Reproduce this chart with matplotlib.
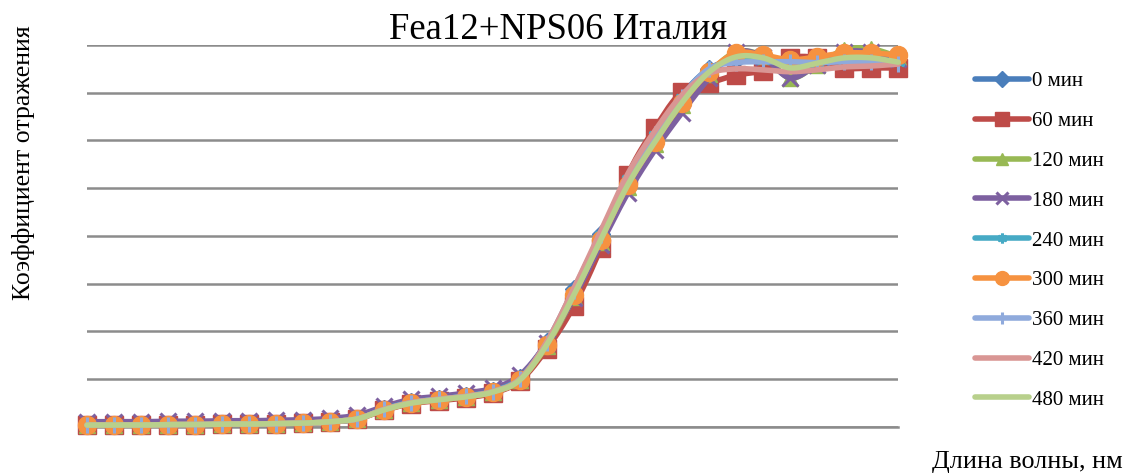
import numpy as np
import matplotlib
matplotlib.use("Agg")
import matplotlib.pyplot as plt
from matplotlib.lines import Line2D

plt.rcParams['font.family'] = ['Liberation Serif', 'DejaVu Serif']

# wavelength points (index only, axis has no labels)
points = np.arange(31)

series_names = ['0 мин', '60 мин', '120 мин', '180 мин', '240 мин',
                '300 мин', '360 мин', '420 мин', '480 мин']

low = [0.4, 0.4, 0.4, 0.5, 0.5, 0.6, 0.6, 0.7, 0.8, 1.1, 1.7]

r_0 = low + [3.8, 5.2, 5.8, 6.5, 7.6, 10.3, 17.8, 28.8, 40.5, 52.5, 61.5, 69.5,
             75.0, 76.8, 76.5, 75.8, 76.0, 76.5, 76.5, 76.2]
r_60 = low + [3.5, 4.9, 5.5, 6.1, 7.1, 9.6, 16.3, 25.3, 37.5, 52.8, 62.6, 70.2,
              72.0, 73.7, 74.6, 77.3, 77.3, 75.2, 75.2, 75.2]
r_120 = low + [3.6, 5.0, 5.7, 6.3, 7.3, 9.8, 17.0, 27.2, 38.8, 50.2, 59.2, 67.4,
               74.0, 78.5, 77.7, 73.1, 75.8, 79.0, 79.2, 77.5]
r_180 = [1.1, 1.1, 1.1, 1.2, 1.2, 1.3, 1.3, 1.4, 1.5, 1.8, 2.5,
         4.3, 5.8, 6.4, 7.1, 8.1, 10.8, 17.6, 27.0, 38.2, 49.0, 58.0, 65.8,
         73.0, 78.5, 77.5, 73.1, 75.8, 78.5, 78.5, 77.0]
r_240 = low + [3.8, 5.2, 5.8, 6.5, 7.5, 10.2, 17.6, 28.5, 40.2, 52.0, 61.2, 69.0,
               74.8, 77.0, 76.8, 76.0, 76.2, 76.8, 76.8, 76.4]
r_300 = low + [3.6, 5.0, 5.7, 6.3, 7.3, 9.8, 17.2, 27.6, 39.2, 50.7, 59.7, 67.9,
               74.3, 78.3, 77.9, 76.9, 77.5, 78.3, 78.3, 77.9]
r_360 = low + [3.7, 5.1, 5.8, 6.4, 7.4, 10.0, 17.6, 28.4, 40.3, 52.2, 61.3, 69.2,
               75.0, 76.3, 76.5, 76.5, 76.3, 76.5, 76.5, 76.0]
r_420 = low + [3.7, 5.1, 5.8, 6.4, 7.4, 10.0, 17.8, 29.0, 41.0, 53.0, 62.0, 69.5,
               74.0, 75.0, 74.8, 74.4, 74.8, 75.4, 75.6, 76.0]
r_480 = low + [3.6, 5.0, 5.7, 6.3, 7.3, 9.8, 17.2, 27.6, 39.2, 50.7, 59.7, 67.9,
               74.3, 77.5, 77.3, 75.2, 76.2, 77.3, 77.3, 76.4]

values = [r_0, r_60, r_120, r_180, r_240, r_300, r_360, r_420, r_480]

colors = ['#4A7EBB', '#BE4B48', '#98B954', '#7D60A0', '#46AAC5',
          '#F69240', '#8FAADC', '#D99694', '#B8D08C']
markers = ['D', 's', '^', 'x', (6, 2, 0), 'o', '|', None, None]
msizes = [9, 12.5, 11, 11, 10, 13, 12, 0, 0]
leg_msizes = [8, 10, 9, 8, 7, 10, 9, 0, 0]


def smooth(x, y, n=20):
    # Catmull-Rom style curve through the points, like a smoothed line in a spreadsheet
    x = np.asarray(x, float)
    y = np.asarray(y, float)
    xs, ys = [], []
    for i in range(len(x) - 1):
        p0 = max(i - 1, 0)
        p3 = min(i + 2, len(x) - 1)
        t = np.linspace(0, 1, n, endpoint=False)
        for arr, out in ((x, xs), (y, ys)):
            a0, a1, a2, a3 = arr[p0], arr[i], arr[i + 1], arr[p3]
            m1 = (a2 - a0) / 6.0
            m2 = (a3 - a1) / 6.0
            c1 = a1 + m1
            c2 = a2 - m2
            out.append((1 - t) ** 3 * a1 + 3 * (1 - t) ** 2 * t * c1
                       + 3 * (1 - t) * t ** 2 * c2 + t ** 3 * a2)
    xs.append([x[-1]])
    ys.append([y[-1]])
    return np.concatenate(xs), np.concatenate(ys)


def marker_width(mk):
    return 2.2 if mk in ('x', '|') or isinstance(mk, tuple) else 1


fig = plt.figure(figsize=(11.27, 4.73), dpi=100)
ax = fig.add_axes([0.0772, 0.0973, 0.7198, 0.8076])

for k, (name, vals) in enumerate(zip(series_names, values)):
    sx, sy = smooth(points, vals)
    ax.plot(sx, sy, color=colors[k], lw=4, solid_capstyle='round',
            zorder=3 + k, clip_on=False)
    if markers[k] is not None:
        ax.plot(points, vals, ls='none', marker=markers[k], ms=msizes[k],
                color=colors[k], mec=colors[k], mew=marker_width(markers[k]),
                zorder=3 + k, clip_on=False)

ax.set_xlim(0, 30)
ax.set_ylim(0, 80)
ax.set_yticks(np.arange(0, 81, 10))
ax.yaxis.grid(True, color='#8C8C8C', lw=1.8)
ax.tick_params(left=False, bottom=False, labelleft=False, labelbottom=False)
for side in ('left', 'right', 'top'):
    ax.spines[side].set_visible(False)
ax.spines['bottom'].set_color('#8C8C8C')
ax.spines['bottom'].set_linewidth(1.8)
ax.set_axisbelow(True)

fig.text(0.495, 0.937, 'Fea12+NPS06 Италия', ha='center', va='center', fontsize=26.5)
fig.text(0.021, 0.655, 'Коэффициент отражения', rotation=90,
         ha='center', va='center', fontsize=18.5)
fig.text(0.912, 0.023, 'Длина волны, нм', ha='center', va='center', fontsize=18.8)

handles = []
for k, name in enumerate(series_names):
    handles.append(Line2D([], [], color=colors[k], lw=4, solid_capstyle='round',
                          marker=markers[k], ms=leg_msizes[k],
                          mew=marker_width(markers[k]),
                          mec=colors[k], mfc=colors[k]))
fig.legend(handles, series_names, loc='center left',
           bbox_to_anchor=(0.858, 0.491), frameon=False, fontsize=15,
           handlelength=2.6, handletextpad=0.1, labelspacing=0.97,
           borderaxespad=0)

fig.savefig('out.png', dpi=100)
